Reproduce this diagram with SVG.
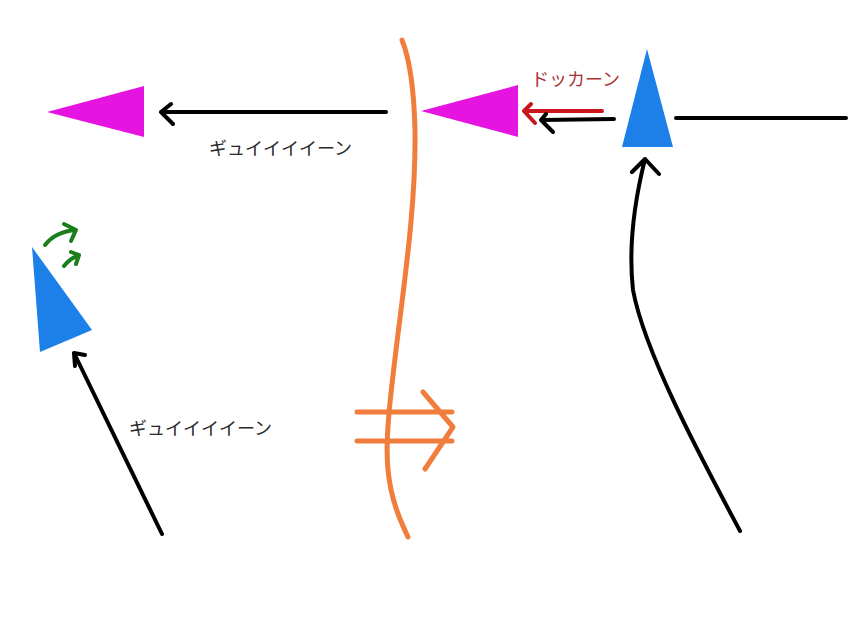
<svg xmlns="http://www.w3.org/2000/svg" width="849" height="636" viewBox="0 0 849 636">
<style>
.mag{fill:#e614e0}
.blue{fill:#1c80e8}
.blk{fill:none;stroke:#000;stroke-width:4;stroke-linecap:round;stroke-linejoin:round}
.red{fill:none;stroke:#c8161c;stroke-width:4;stroke-linecap:round;stroke-linejoin:round}
.org{fill:none;stroke:#f07d3c;stroke-width:5;stroke-linecap:round;stroke-linejoin:round}
.grn{fill:none;stroke:#1a7f1a;stroke-width:4;stroke-linecap:round;stroke-linejoin:round}
.lbl{font-family:"Noto Sans CJK JP","Noto Sans CJK SC",sans-serif;font-size:18px;fill:#2a2a2a}
.lblr{font-family:"Noto Sans CJK JP","Noto Sans CJK SC",sans-serif;font-size:18px;fill:#a83434}
</style>
<rect width="849" height="636" fill="#fff"/>
<g id="divider">
<path class="org" d="M402,40 C410,60 414,90 415,130 C416,200 406,270 396,350 C390,400 385,440 388,470 C391,500 400,520 408,537"/>
</g>
<g id="magenta-left"><polygon class="mag" points="47,112 144,86 144,137"/></g>
<g id="magenta-right"><polygon class="mag" points="421,111 518,85 518,137"/></g>
<g id="blue-right"><polygon class="blue" points="647,49 622,147 673,147"/></g>
<g id="blue-left"><polygon class="blue" points="32,247 92,330 40,352"/></g>
<g id="connectors">
<path class="blk" d="M386,112 L161,112 M171,104 L161,112 L173,124"/>
<path class="red" d="M602,111 L524,111 M531,104 L524,111 L535,123"/>
<path class="blk" d="M614,119 L541,120 M546,114 L541,120 L553,132"/>
<path class="blk" d="M676,118 L846,118"/>
<path class="blk" d="M740,531 C705,465 645,355 633,290 C628,245 636,195 645,159 M632,172 L645,159 L659,174"/>
<path class="blk" d="M162,534 L74,353 M75,366 L74,353 L85,355"/>
<path class="grn" d="M45,245 C52,236 62,231 76,230 M64,224 L76,230 L71,241"/>
<path class="grn" d="M64,266 C68,261 73,257 79,255 M71,252 L79,255 L76,264"/>
<path class="org" d="M357,412 L452,412 M357,441 L452,441 M423,392 L453,427 L425,469"/>
</g>
<text class="lbl" x="209" y="155">ギュイイイイーン</text>
<text class="lbl" x="129" y="435">ギュイイイイーン</text>
<text class="lblr" x="531" y="86">ドッカーン</text>
</svg>
